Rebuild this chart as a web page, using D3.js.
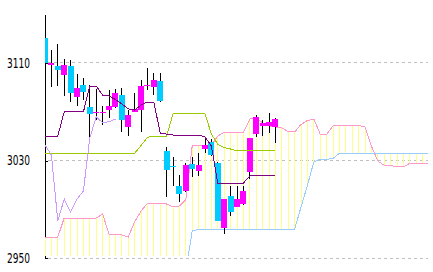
<!DOCTYPE html>
<html>
<head>
<script src="https://d3js.org/d3.v7.min.js"></script>
<style>
  html, body { margin: 0; padding: 0; background: #fff; }
  svg { display: block; }
  .grid { stroke: #c0c0c0; stroke-dasharray: 3,3; shape-rendering: crispEdges; }
  .axis path, .axis line { stroke: #000; shape-rendering: crispEdges; }
  .axis text { font-family: "Liberation Sans Narrow", "DejaVu Sans Condensed", "Liberation Sans", sans-serif; font-size: 14px; fill: #000; }
  .ln { fill: none; stroke-width: 1; shape-rendering: crispEdges; }
</style>
<title>Ichimoku</title>
</head>
<body>
<svg id="chart" width="433" height="272"></svg>
<script>
// candles (index 0 = leftmost)
const opens  = [3130.5, 3108.1, 3107.5, 3100.4, 3107.5, 3082.3, 3091.9, 3073.9, 3069.8, 3069.5,
                3071.4, 3073.9, 3083.7, 3057.5, 3070.0, 3071.4, 3091.5, 3090.6, 3095.2, 3037.8,
                3025.5, 3009.1, 3005.0, 3027.1, 3021.6, 3039.2, 3045.4, 3027.9, 2975.0, 3000.9,
                2992.1, 2994.1, 3020.6, 3051.7, 3058.3, 3058.3, 3057.7];
const highs  = [3148.0, 3120.7, 3125.6, 3113.3, 3112.5, 3101.0, 3097.7, 3091.9, 3089.0, 3075.0,
                3087.8, 3088.7, 3089.5, 3071.4, 3085.4, 3096.0, 3105.9, 3101.8, 3101.8, 3041.1,
                3032.9, 3018.1, 3028.0, 3032.9, 3036.2, 3047.6, 3047.6, 3028.8, 2998.4, 3009.1,
                3009.1, 3009.1, 3048.5, 3067.3, 3063.2, 3069.2, 3064.9];
const lows   = [3106.0, 3090.7, 3091.1, 3082.9, 3078.2, 3074.7, 3079.6, 3043.5, 3063.0, 3059.0,
                3064.9, 3073.0, 3053.4, 3050.1, 3069.5, 3053.4, 3087.8, 3083.7, 3078.0, 3000.0,
                3009.1, 2995.9, 3004.0, 3016.5, 3017.3, 3036.2, 3033.7, 2980.0, 2969.3, 2984.5,
                2992.0, 2993.5, 3014.8, 3049.3, 3050.1, 3052.8, 3044.4];
const closes = [3110.0, 3110.2, 3104.5, 3108.6, 3085.1, 3089.5, 3086.2, 3068.4, 3070.2, 3070.0,
                3074.7, 3085.4, 3063.2, 3067.3, 3072.3, 3091.1, 3092.0, 3096.0, 3079.1, 3022.2,
                3024.3, 3002.9, 3026.3, 3023.4, 3026.3, 3042.7, 3034.5, 2980.4, 2998.4, 2987.7,
                2998.4, 3005.0, 3048.5, 3065.9, 3061.0, 3061.8, 3064.0];

// indicator lines
const tenkan = [3050.1, 3050.1, 3050.1, 3069.8, 3069.8, 3069.8, 3069.8, 3091.1, 3091.1, 3083.7,
                3082.9, 3080.0, 3076.4, 3072.3, 3071.4, 3075.5, 3078.0, 3078.0, 3052.6, 3051.7,
                3050.9, 3050.9, 3050.9, 3050.9, 3050.9, 3049.3, 3041.9, 3011.5, 3011.5, 3011.5,
                3011.5, 3011.5, 3017.3, 3017.3, 3017.3, 3017.3, 3017.3];
const kijun  = [3035.9, 3035.9, 3035.9, 3035.9, 3035.9, 3035.9, 3035.9, 3035.9, 3035.9, 3035.9,
                3035.9, 3035.9, 3035.9, 3035.9, 3035.9, 3042.3, 3048.9, 3050.1, 3050.1, 3050.1,
                3068.2, 3068.2, 3068.2, 3068.2, 3068.2, 3068.2, 3051.7, 3043.1, 3040.7, 3039.4,
                3037.8, 3037.8, 3037.8, 3037.8, 3037.8, 3037.8, 3037.8];
const chikou = [3042.7, 3034.5, 2980.4, 2998.4, 2987.7, 2998.4, 3005.0, 3048.5, 3065.9, 3061.0,
                3061.8, 3064.0];
const spanA  = [2967.2, 2967.2, 2967.2, 2982.8, 2982.8, 2982.8, 2982.8, 2982.8, 2982.8, 2986.1,
                2969.7, 2969.3, 2968.9, 2967.2, 2979.5, 2988.6, 2994.9, 2994.9, 2994.9, 2994.3,
                2992.1, 2992.7, 2997.6, 3041.9, 3042.7, 3042.7, 3042.7, 3050.1, 3053.1, 3053.1,
                3053.1, 3053.1, 3064.0, 3064.9, 3060.8, 3058.3, 3057.5, 3056.7, 3053.8, 3053.4,
                3059.5, 3062.8, 3064.0, 3051.7, 3051.5, 3058.3, 3058.7, 3058.7, 3058.7, 3058.7,
                3057.5, 3041.9, 3029.6, 3026.1, 3026.1, 3024.7, 3024.7, 3027.7, 3027.7, 3027.7,
                3027.7];
const spanB  = [2938.5, 2938.5, 2938.5, 2938.5, 2938.5, 2938.5, 2938.5, 2938.5, 2938.5, 2938.5,
                2938.5, 2938.5, 2938.5, 2938.5, 2938.5, 2938.5, 2938.5, 2938.5, 2938.5, 2938.5,
                2938.5, 2938.5, 2938.5, 2972.2, 2973.5, 2973.5, 2973.5, 2973.5, 2973.5, 2973.5,
                2973.5, 2973.5, 2973.5, 2973.5, 2973.5, 2973.5, 2973.5, 2973.5, 2973.5, 2973.5,
                2991.8, 3009.5, 3028.8, 3031.0, 3031.0, 3031.6, 3035.9, 3035.9, 3035.9, 3035.9,
                3035.9, 3035.9, 3035.9, 3035.9, 3035.9, 3035.9, 3035.9, 3035.9, 3035.9, 3035.9,
                3035.9];

const yTicks = [2950, 3030, 3110];

const svg = d3.select("#chart");
svg.append("rect").attr("width", 433).attr("height", 272).attr("fill", "#fff");

const xs = d3.scaleLinear().domain([0, 60]).range([45, 429]);
const ys = d3.scaleLinear().domain([2950, 3150]).range([258, 14.25]);
const px = (i) => Math.floor(xs(i)) + 0.5;

// dashed grid
svg.append("g").selectAll("line").data(yTicks).join("line")
  .attr("class", "grid")
  .attr("x1", 48).attr("x2", 428)
  .attr("y1", d => Math.floor(ys(d)) + 0.5)
  .attr("y2", d => Math.floor(ys(d)) + 0.5);

// axis
const axis = svg.append("g").attr("class", "axis").attr("transform", "translate(45,0)")
  .call(d3.axisLeft(ys).tickValues(yTicks).tickFormat(d3.format("d"))
    .tickSize(-3).tickSizeOuter(0).tickPadding(15));
axis.selectAll("text").attr("textLength", 23).attr("lengthAdjust", "spacingAndGlyphs");

// plot area
svg.append("clipPath").attr("id", "plot")
  .append("rect").attr("x", 45).attr("y", 14).attr("width", 383).attr("height", 242);
const plot = svg.append("g").attr("clip-path", "url(#plot)");

// cloud: one thin vertical line per period between span A and span B
plot.append("g").selectAll("line").data(spanA).join("line")
  .attr("x1", (d, i) => px(i)).attr("x2", (d, i) => px(i))
  .attr("y1", d => ys(d)).attr("y2", (d, i) => ys(spanB[i]))
  .attr("stroke", "#ffff88").attr("shape-rendering", "crispEdges");

const line = d3.line().x((d, i) => xs(i)).y(d => ys(d));

plot.append("path").datum(spanA).attr("class", "ln").attr("stroke", "#ff99cc").attr("d", line);
plot.append("path").datum(spanB).attr("class", "ln").attr("stroke", "#99ccff").attr("d", line);

// candles
const candles = plot.append("g").selectAll("g").data(opens).join("g");
candles.append("line")
  .attr("x1", (d, i) => px(i)).attr("x2", (d, i) => px(i))
  .attr("y1", (d, i) => ys(highs[i])).attr("y2", (d, i) => ys(lows[i]))
  .attr("stroke", "#000").attr("shape-rendering", "crispEdges");
candles.append("rect")
  .attr("x", (d, i) => Math.round(xs(i) - 3))
  .attr("width", 6)
  .attr("y", (d, i) => Math.round(ys(Math.max(d, closes[i]))))
  .attr("height", (d, i) => Math.max(1, Math.round(ys(Math.min(d, closes[i]))) - Math.round(ys(Math.max(d, closes[i])))))
  .attr("fill", (d, i) => closes[i] >= d ? "#ff00ff" : "#00ccff")
  .attr("shape-rendering", "crispEdges");

plot.append("path").datum(kijun).attr("class", "ln").attr("stroke", "#99cc00").attr("d", line);
plot.append("path").datum(tenkan).attr("class", "ln").attr("stroke", "#800080").attr("d", line);
plot.append("path").datum(chikou).attr("class", "ln").attr("stroke", "#cc99ff").attr("d", line);
</script>
</body>
</html>
